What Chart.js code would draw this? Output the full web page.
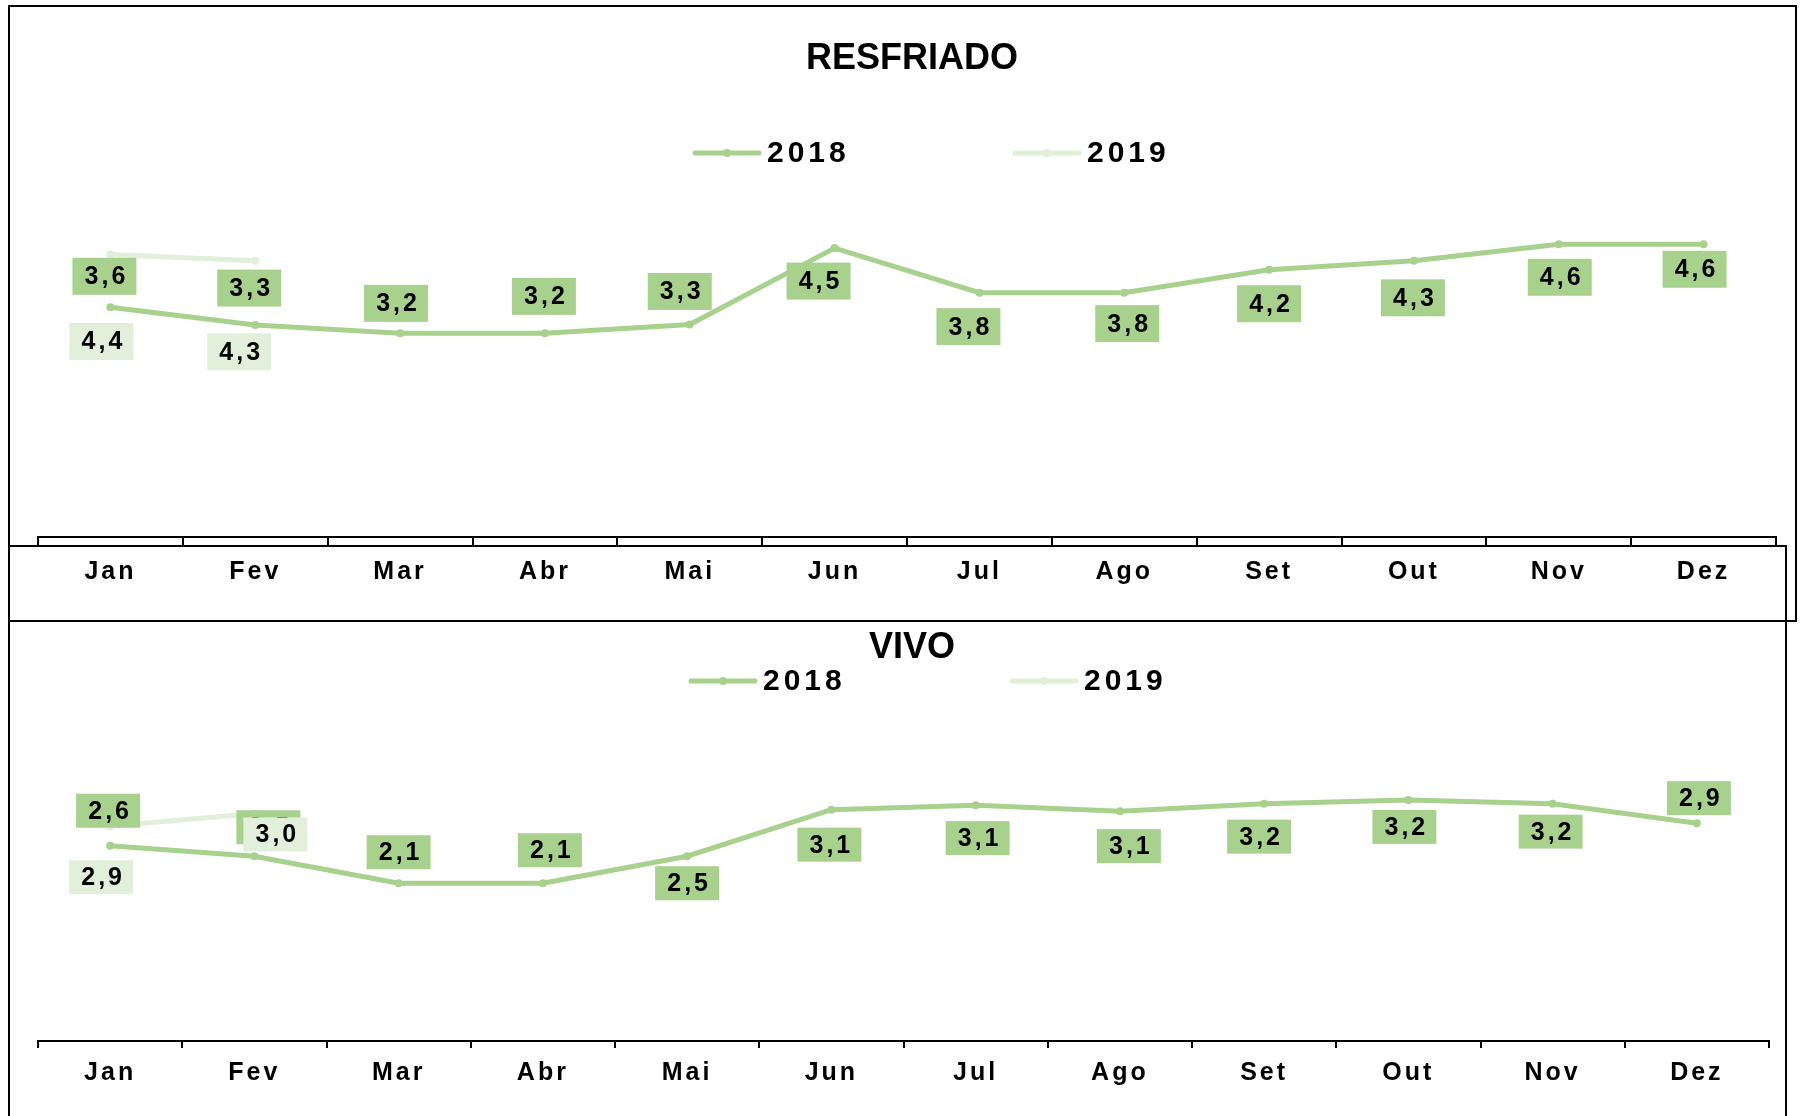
<!DOCTYPE html>
<html>
<head>
    <title>Resfriado e Vivo</title>
    <style>
        body{
            margin:0;
            background:white;
        }
        #wrap{
            position:relative;
            width:1803px;
            height:1116px;
            overflow:hidden;
        }
        canvas{
            position:absolute;
            left:0;
        }
        .frame{
            position:absolute;
            border:2px solid #000;
            box-sizing:border-box;
        }
    </style>
</head>
<body>
<div id="wrap">
    <div class="frame" style="left:8px;top:5px;width:1789px;height:617px;"></div>
    <div class="frame" style="left:8px;top:545px;width:1779px;height:620px;"></div>
    <canvas id="resfriado" width="1803" height="620" style="top:0;width:1803px;height:620px"></canvas>
    <canvas id="vivo" width="1803" height="570" style="top:546px;width:1803px;height:570px"></canvas>
</div>

<script src="https://cdn.jsdelivr.net/npm/chart.js@4.4.1/dist/chart.umd.min.js"></script>
<script>
    // dados
    const meses = ['Jan', 'Fev', 'Mar', 'Abr', 'Mai', 'Jun', 'Jul', 'Ago', 'Set', 'Out', 'Nov', 'Dez'];
    const anos = ['2018', '2019'];

    const resfriado2018 = [3.61, 3.33, 3.2, 3.2, 3.34, 4.54, 3.84, 3.84, 4.2, 4.34, 4.6, 4.6];
    const resfriado2019 = [4.44, 4.34, null, null, null, null, null, null, null, null, null, null];

    const vivo2018 = [2.6, 2.46, 2.1, 2.1, 2.46, 3.08, 3.14, 3.06, 3.16, 3.21, 3.16, 2.9];
    const vivo2019 = [2.86, 3.03, null, null, null, null, null, null, null, null, null, null];

    // deslocamento dos rotulos em relacao ao ponto (layout)
    const offResfriado2018 = [[-6,-31],[-6,-37],[-4,-30],[-1,-37],[-10,-33],[-16,33],[-11,34],[3,31],[0,34],[-1,37],[1,33],[-9,25]];
    const offResfriado2019 = [[-9,87],[-16,91]];
    const offVivo2018 = [[-2,-35],[14,-29],[0,-31],[7,-33],[0,27],[-2,35],[2,33],[9,35],[-5,33],[-4,27],[-2,28],[2,-25]];
    const offVivo2019 = [[-9,51],[21,21]];

    const verde = '#a9d18e';
    const verdeClaro = '#e2efda';
    const fonte = '"Liberation Sans", Arial, sans-serif';

    const rotulos = {
        id: 'rotulos',
        beforeDraw(chart) {
            chart.ctx.letterSpacing = '3px';
        },
        afterDatasetsDraw(chart, args, opts) {
            const ctx = chart.ctx;
            ctx.save();
            ctx.letterSpacing = '3px';
            ctx.font = 'bold 25px ' + fonte;
            ctx.textAlign = 'center';
            ctx.textBaseline = 'middle';
            chart.data.datasets.forEach((ds, di) => {
                const meta = chart.getDatasetMeta(di);
                const offs = opts.offsets[di];
                ds.data.forEach((v, i) => {
                    if (v === null) return;
                    const pt = meta.data[i];
                    const cx = pt.x + offs[i][0];
                    const cy = pt.y + offs[i][1];
                    ctx.fillStyle = ds.labelBox;
                    ctx.fillRect(cx - opts.boxW / 2, cy - opts.boxH / 2, opts.boxW, opts.boxH);
                    ctx.fillStyle = '#000';
                    ctx.fillText(v.toFixed(1).replace('.', ','), cx + 2, cy + 1);
                });
            });
            ctx.restore();
        },
        afterDraw(chart, args, opts) {
            const ctx = chart.ctx;
            ctx.save();
            ctx.textBaseline = 'middle';

            // titulo
            ctx.letterSpacing = '0px';
            ctx.font = 'bold 36px ' + fonte;
            ctx.textAlign = 'center';
            ctx.fillStyle = '#000';
            ctx.fillText(opts.title, opts.titleX, opts.titleY);

            // legenda
            ctx.letterSpacing = '4px';
            ctx.font = 'bold 30px ' + fonte;
            ctx.textAlign = 'left';
            chart.data.datasets.forEach((ds, di) => {
                const x = opts.legendX[di];
                const y = opts.legendY;
                ctx.strokeStyle = ds.borderColor;
                ctx.lineWidth = 5;
                ctx.lineCap = 'round';
                ctx.beginPath();
                ctx.moveTo(x, y);
                ctx.lineTo(x + 64, y);
                ctx.stroke();
                ctx.fillStyle = ds.borderColor;
                ctx.beginPath();
                ctx.arc(x + 32, y, 4, 0, Math.PI * 2);
                ctx.fill();
                ctx.fillStyle = '#000';
                ctx.fillText(ds.label, x + opts.textGap, y + 1);
            });
            ctx.restore();
        }
    };

    function makeChart(id, titulo, s2018, s2019, cfg) {
        return new Chart(id, {
            type: 'line',
            data: {
                labels: meses,
                datasets: [{
                    label: anos[0],
                    data: s2018,
                    borderColor: verde,
                    backgroundColor: verde,
                    labelBox: verde,
                    borderWidth: 5,
                    pointRadius: 4,
                    pointBorderWidth: 0,
                    tension: 0,
                    fill: false
                }, {
                    label: anos[1],
                    data: s2019,
                    borderColor: verdeClaro,
                    backgroundColor: verdeClaro,
                    labelBox: verdeClaro,
                    borderWidth: 5,
                    pointRadius: 4,
                    pointBorderWidth: 0,
                    tension: 0,
                    fill: false
                }]
            },
            options: {
                responsive: false,
                animation: false,
                devicePixelRatio: 1,
                layout: {
                    padding: { left: 38, right: cfg.padRight, top: cfg.padTop, bottom: 0 }
                },
                plugins: {
                    legend: { display: false },
                    tooltip: { enabled: false },
                    title: { display: false },
                    rotulos: {
                        title: titulo,
                        titleX: 912,
                        titleY: cfg.titleY,
                        offsets: cfg.offsets,
                        boxW: 64,
                        boxH: cfg.boxH,
                        legendX: cfg.legendX,
                        legendY: cfg.legendY,
                        textGap: 72
                    }
                },
                scales: {
                    x: {
                        offset: true,
                        grid: {
                            offset: true,
                            drawOnChartArea: false,
                            drawTicks: true,
                            tickLength: cfg.tickLength,
                            color: '#000',
                            lineWidth: 2
                        },
                        border: { display: true, color: '#000', width: 2 },
                        ticks: {
                            color: '#000',
                            font: { family: fonte, size: 25, weight: 'bold' },
                            padding: cfg.tickPad,
                            maxRotation: 0,
                            autoSkip: false
                        },
                        afterFit: s => { s.height = cfg.axisHeight; }
                    },
                    y: {
                        display: false,
                        min: 0,
                        max: cfg.yMax
                    }
                }
            },
            plugins: [rotulos]
        });
    }

    const resfriadoChart = makeChart('resfriado', 'RESFRIADO', resfriado2018, resfriado2019, {
        padRight: 27,
        padTop: 187,
        titleY: 59,
        offsets: [offResfriado2018, offResfriado2019],
        boxH: 37,
        legendX: [695, 1015],
        legendY: 153,
        tickLength: 9,
        tickPad: 11,
        axisHeight: 83,
        yMax: 5.5
    });

    const vivoChart = makeChart('vivo', 'VIVO', vivo2018, vivo2019, {
        padRight: 34,
        padTop: 157,
        titleY: 102,
        offsets: [offVivo2018, offVivo2019],
        boxH: 34,
        legendX: [691, 1012],
        legendY: 135,
        tickLength: 7,
        tickPad: 10,
        axisHeight: 75,
        yMax: 4.5
    });
</script>
</body>
</html>
